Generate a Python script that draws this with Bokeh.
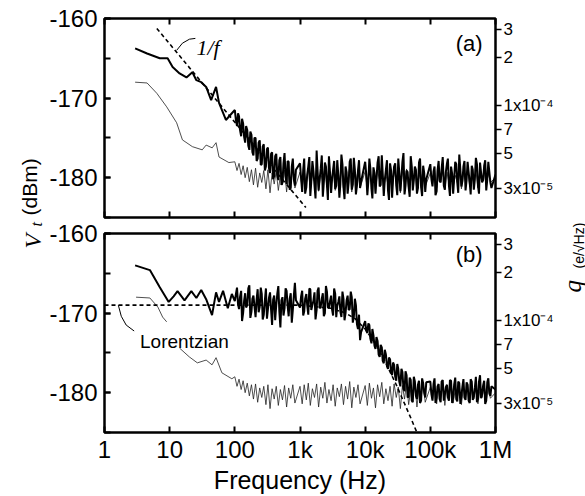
import math
from bokeh.plotting import figure
from bokeh.models import (Range1d, LogScale, LogAxis, FixedTicker, SingleIntervalTicker,
                          CustomJSTickFormatter, Label)
from bokeh.layouts import row, column
from bokeh.embed import file_html
from bokeh.resources import INLINE

SANS = "Liberation Sans"
SERIF = "Liberation Serif"

# ---------------- data ----------------
x_ticks = [1.0, 10.0, 100.0, 1000.0, 1e4, 1e5, 1e6]
x_tick_labels = ["1", "10", "100", "1k", "10k", "100k", "1M"]

y_ticks = [-180, -170, -160]
y_tick_labels = ["-180", "-170", "-160"]

q_ticks = [3e-5, 5e-5, 7e-5, 1e-4, 2e-4, 3e-4]
q_tick_labels = ["3x10\u207b\u2075", "5", "7", "1x10\u207b\u2074", "2", "3"]
Q_REF = 1e-4      # q value that sits at DB_REF
DB_REF = -170.9   # dBm

# frequency sample grids (mantissas per decade), 100 Hz .. 1 MHz
freq_mant = [1.00, 1.08, 1.16, 1.25, 1.34, 1.44, 1.55, 1.67, 1.80, 1.93,
             2.08, 2.24, 2.41, 2.59, 2.78, 3.00, 3.22, 3.47, 3.73, 4.02,
             4.32, 4.65, 5.00, 5.38, 5.79, 6.23, 6.70, 7.21, 7.76, 8.35]
freq_mant_mid = [1.04, 1.12, 1.20, 1.29, 1.39, 1.49, 1.61, 1.73, 1.86, 2.00,
                 2.16, 2.32, 2.50, 2.68, 2.89, 3.11, 3.34, 3.60, 3.87, 4.16,
                 4.48, 4.82, 5.19, 5.58, 6.01, 6.46, 6.95, 7.48, 8.05, 8.66]
grid_f = [m * 10 ** d for d in (2, 3, 4, 5) for m in freq_mant] + [1e6]
mid_f = [m * 10 ** d for d in (2, 3, 4, 5) for m in freq_mant_mid]

# Panel (a), thick trace
a_thick_lo_f = [2.95, 4.5, 7.05, 9.3, 11.1, 14.2, 18.1, 22.3, 25.7, 30.5, 36.3, 43.3, 51.5, 57.2, 73, 90]
a_thick_lo_db = [-163.75, -164.4, -165.0, -165.0, -166.1, -166.9, -167.4, -166.75, -167.75, -168.0,
                 -168.6, -170.25, -168.6, -170.6, -172.75, -171.9]
a_thick_d2 = [-171.5, -173.5, -172.3, -174.8, -173.2, -175.6, -174.0, -176.5, -174.6, -177.2,
              -175.0, -177.6, -175.3, -178.3, -175.8, -178.6, -176.2, -179.4, -176.8, -179.8,
              -177.0, -180.3, -177.4, -180.6, -176.9, -180.8, -178.0, -181.3, -177.6, -181.0]
a_thick_d3 = [-178.2, -181.8, -177.6, -181.2, -178.6, -182.3, -177.9, -181.0, -176.6, -181.6,
              -178.9, -182.4, -178.1, -180.9, -177.3, -181.9, -179.0, -181.4, -177.8, -182.5,
              -177.1, -181.2, -178.6, -182.0, -178.0, -181.5, -177.5, -182.1, -179.1, -181.3]
a_thick_d4 = [-178.0, -182.2, -177.6, -181.4, -178.7, -182.0, -178.1, -181.1, -177.2, -182.3,
              -179.0, -181.6, -178.2, -182.5, -178.6, -181.0, -177.6, -181.7, -178.0, -182.1,
              -179.1, -181.2, -177.3, -181.6, -178.6, -182.0, -178.1, -181.2, -178.5, -181.8]
a_thick_d5 = [-178.3, -181.1, -178.6, -181.7, -177.9, -180.6, -177.4, -181.5, -178.2, -181.0,
              -178.6, -182.0, -178.0, -180.6, -177.1, -181.1, -178.6, -181.6, -178.0, -180.6,
              -178.5, -181.5, -177.5, -181.0, -178.1, -180.6, -178.5, -181.6, -178.0, -180.6]
a_thick_end = [-179.6]
a_thick_m2 = [-172.8, -171.9, -174.0, -172.6, -174.9, -173.5, -176.0, -174.2, -176.8, -175.0,
              -177.9, -175.6, -178.4, -176.1, -179.1, -176.4, -178.8, -177.0, -180.2, -177.3,
              -179.6, -177.8, -180.9, -178.2, -179.8, -177.9, -181.5, -178.6, -180.2, -179.0]
a_thick_m3 = [-180.1, -179.0, -182.0, -179.6, -177.4, -180.5, -179.2, -182.6, -179.1, -180.2,
              -177.2, -180.6, -178.6, -182.8, -179.4, -180.1, -177.9, -181.0, -179.6, -180.8,
              -178.3, -182.7, -179.3, -180.6, -177.6, -180.9, -179.0, -181.0, -177.8, -180.5]
a_thick_m4 = [-179.6, -180.4, -178.8, -182.6, -179.4, -180.1, -177.3, -180.9, -179.5, -180.3,
              -177.8, -182.8, -179.1, -180.2, -178.2, -182.2, -179.4, -180.0, -176.9, -181.0,
              -179.3, -182.4, -178.6, -180.3, -179.0, -181.3, -177.6, -182.3, -179.4, -180.2]
a_thick_m5 = [-180.2, -179.2, -182.2, -179.1, -180.4, -178.9, -181.0, -179.3, -177.6, -182.3,
              -179.5, -180.1, -178.3, -181.9, -179.0, -180.4, -177.9, -180.3, -179.3, -182.1,
              -179.0, -180.2, -178.3, -182.0, -179.4, -180.3, -177.8, -180.2, -179.3, -181.3]

# Panel (a), thin trace
a_thin_lo_f = [2.95, 4.5, 6.35, 9.0, 12.8, 15.7, 22.3, 31.6, 36.3, 44.9, 51.5, 57.2, 81]
a_thin_lo_db = [-168.0, -168.1, -169.4, -171.1, -173.1, -175.25, -176.1, -176.5, -175.9, -176.25,
                -175.6, -177.4, -178.1]
a_thin_d2 = [-178.0, -179.1, -178.2, -179.6, -178.5, -180.0, -178.7, -180.5, -179.0, -180.9,
             -178.8, -181.2, -179.4, -180.6, -179.1, -181.4, -179.0, -181.9, -179.4, -180.8,
             -179.2, -181.6, -179.7, -180.9, -179.0, -181.8, -179.4, -180.7, -178.9, -181.3]
a_thin_d3 = [-179.3, -181.3, -179.1, -180.8, -178.9, -181.5, -179.6, -180.5, -179.0, -181.7,
             -179.4, -180.6, -178.8, -181.2, -179.7, -180.9, -179.1, -181.6, -179.5, -180.4,
             -179.0, -181.4, -179.3, -180.7, -178.7, -181.8, -179.4, -180.5, -179.1, -181.3]
a_thin_d4 = [-179.2, -181.5, -178.9, -180.6, -179.5, -181.8, -179.1, -180.4, -178.8, -181.3,
             -179.6, -180.9, -179.3, -181.6, -179.0, -180.5, -179.4, -181.9, -179.2, -180.7,
             -178.9, -181.4, -179.7, -180.6, -179.1, -181.7, -179.5, -180.5, -179.0, -181.1]
a_thin_d5 = [-179.4, -180.8, -179.0, -181.3, -179.6, -180.5, -179.1, -181.5, -179.3, -180.7,
             -178.9, -181.2, -179.7, -180.6, -179.2, -181.4, -179.4, -180.5, -179.0, -181.1,
             -179.5, -180.7, -179.1, -181.3, -179.6, -180.5, -179.2, -180.9, -179.4, -180.6]
a_thin_end = [-180.0]

# 1/f guide line (a)
onef_f = [6.35, 1230.0]
onef_db = [-161.25, -183.75]
onef_leader_f = [12.8, 15.7, 20.1, 24.8]
onef_leader_db = [-164.0, -163.1, -162.6, -162.5]

# Panel (b), thick trace
b_thick_lo_f = [2.95, 4.97, 7.05, 9.66, 11.5, 13.2, 16.9, 21.5, 25.7, 30.5, 36.3, 44.7, 51.5, 57.2, 66, 78, 90]
b_thick_lo_db = [-164.0, -164.6, -166.75, -168.6, -167.9, -167.25, -168.4, -167.25, -168.1, -167.1,
                 -168.25, -170.25, -167.4, -168.6, -167.2, -169.4, -167.6]
b_thick_d2 = [-168.5, -166.8, -169.5, -167.2, -170.0, -167.5, -169.0, -166.5, -169.8, -167.8,
              -170.5, -167.0, -169.2, -167.6, -170.2, -166.9, -169.5, -167.4, -171.5, -167.8,
              -169.0, -166.6, -171.8, -168.0, -169.4, -167.2, -170.4, -167.5, -169.6, -166.2]
b_thick_d3 = [-169.3, -167.2, -169.8, -167.6, -170.2, -167.0, -169.0, -167.4, -169.6, -166.8,
              -169.2, -167.5, -170.0, -167.3, -169.4, -167.8, -170.3, -167.6, -169.1, -167.9,
              -170.5, -168.2, -170.0, -167.8, -169.5, -168.0, -170.5, -169.0, -172.0, -173.4]
b_thick_d4 = [-171.0, -172.5, -171.5, -173.8, -172.8, -174.5, -173.5, -175.5, -174.3, -176.3,
              -175.2, -177.0, -175.8, -177.8, -176.5, -178.5, -177.0, -179.2, -177.4, -179.8,
              -177.8, -180.5, -178.4, -181.2, -178.6, -180.8, -178.5, -181.0, -178.8, -180.6]
b_thick_d5 = [-178.6, -181.0, -178.2, -180.5, -178.9, -181.2, -178.4, -180.3, -179.0, -181.0,
              -178.5, -180.6, -178.1, -181.1, -178.8, -180.4, -178.3, -180.9, -179.0, -181.3,
              -178.6, -180.5, -178.0, -180.8, -177.8, -180.2, -178.5, -181.0, -178.2, -180.4]
b_thick_end = [-179.6]
b_thick_m2 = [-167.6, -168.9, -168.0, -171.0, -168.4, -169.3, -166.9, -170.6, -168.2, -169.1,
              -168.3, -169.9, -166.8, -170.8, -168.4, -170.7, -168.1, -169.6, -168.3, -170.9,
              -167.6, -169.8, -168.4, -170.3, -166.9, -169.1, -168.2, -171.2, -167.8, -168.4]
b_thick_m3 = [-167.9, -170.3, -168.2, -169.0, -166.9, -169.6, -168.4, -170.8, -167.2, -169.4,
              -168.2, -170.4, -166.6, -169.3, -168.5, -169.6, -166.9, -170.5, -168.6, -169.8,
              -167.3, -170.9, -168.4, -169.6, -167.3, -171.2, -168.2, -171.4, -170.2, -172.4]
b_thick_m4 = [-172.2, -171.3, -173.2, -172.0, -174.1, -173.0, -175.2, -174.0, -176.0, -174.6,
              -176.7, -175.6, -177.4, -176.2, -178.0, -176.4, -178.6, -177.0, -179.5, -177.3,
              -180.6, -178.1, -181.0, -178.0, -180.4, -179.0, -181.3, -178.2, -180.0, -178.7]
b_thick_m5 = [-180.2, -178.9, -181.3, -179.2, -180.8, -178.6, -181.0, -179.3, -180.6, -178.4,
              -181.3, -179.0, -180.8, -178.6, -181.4, -179.2, -180.6, -178.7, -181.0, -178.3,
              -180.9, -179.4, -181.2, -178.6, -180.7, -179.1, -181.4, -178.7, -180.1, -179.2]

# Panel (b), thin trace (interrupted by the label)
b_thin_s1_f = [3.05, 4.97, 6.6, 7.8, 9.0]
b_thin_s1_db = [-168.0, -168.1, -169.25, -170.5, -171.1]
b_thin_s2_f = [14.2, 20.0, 26.6, 36.3, 44.7, 51.5, 63.3, 90]
b_thin_s2_db = [-174.4, -175.5, -176.25, -175.9, -176.5, -175.6, -177.5, -178.25]
b_thin_d2 = [-178.0, -179.2, -178.3, -179.6, -178.5, -180.0, -178.8, -180.4, -179.0, -180.8,
             -178.9, -181.2, -179.4, -180.6, -179.2, -181.5, -179.0, -182.0, -179.5, -180.8,
             -179.2, -181.6, -179.6, -180.9, -179.1, -181.8, -179.4, -180.7, -179.0, -181.3]
b_thin_d3 = [-179.2, -181.4, -179.0, -180.9, -178.8, -181.6, -179.5, -180.6, -178.9, -181.8,
             -179.3, -180.7, -178.7, -181.3, -179.6, -181.0, -179.0, -181.7, -179.4, -180.5,
             -178.9, -181.5, -179.2, -180.8, -178.6, -181.9, -179.3, -180.6, -179.0, -181.4]
b_thin_d4 = [-179.1, -181.6, -178.8, -180.7, -179.4, -181.9, -179.0, -180.5, -178.7, -181.4,
             -179.5, -181.0, -179.2, -181.7, -178.9, -180.6, -179.3, -182.0, -179.1, -180.8,
             -178.8, -181.5, -179.6, -180.7, -179.0, -181.8, -179.4, -180.6, -178.9, -181.2]
b_thin_d5 = [-179.3, -180.9, -178.9, -181.4, -179.5, -180.6, -179.0, -181.6, -179.2, -180.8,
             -178.8, -181.3, -179.6, -180.7, -179.1, -181.5, -179.3, -180.6, -178.9, -181.2,
             -179.4, -180.8, -179.0, -181.4, -179.5, -180.6, -179.1, -181.0, -179.3, -180.7]
b_thin_end = [-180.0]

# Lorentzian guide (b)
lor_f = [1.0, 1000.0, 3000.0, 5000.0, 7000.0, 1e4, 1.5e4, 2e4, 3e4, 5e4, 7e4]
lor_db = [-169.0, -169.0, -169.4, -170.0, -170.7, -172.0, -174.1, -176.0, -179.0, -183.15, -186.0]
lor_leader_f = [1.63, 1.81, 2.15, 2.85]
lor_leader_db = [-169.0, -170.4, -171.5, -172.25]

DB_LO, DB_HI = -185.0, -160.0

# ---------------- layout constants (pixels) ----------------
TOTAL_H = 496
LAB_L_W = 46
PANEL_W = 510
LAB_R_W = 29
FRAME_LEFT = 58
FRAME_RIGHT = 56


def q_of_db(db):
    return Q_REF * 10 ** ((db - DB_REF) / 20.0)


def merged(lo_f, lo_db, grid_db, mid_db):
    """low-frequency points followed by grid and mid-grid readings, ordered by frequency"""
    pairs = sorted(list(zip(grid_f, grid_db)) + list(zip(mid_f, mid_db)))
    return lo_f + [f for f, _ in pairs], lo_db + [d for _, d in pairs]


def hide_labels(ax):
    ax.formatter = CustomJSTickFormatter(code="return ''")
    ax.major_label_text_font_size = "0px"
    ax.major_label_standoff = 0


def make_panel(height, top, bottom, show_x_labels):
    p = figure(width=PANEL_W, height=height, x_axis_type="log",
               x_range=Range1d(1, 1e6), y_range=Range1d(DB_LO, DB_HI),
               output_backend="svg", toolbar_location=None,
               min_border_left=FRAME_LEFT, min_border_right=FRAME_RIGHT,
               min_border_top=top, min_border_bottom=bottom)
    p.grid.grid_line_color = None
    p.outline_line_color = "black"
    p.outline_line_width = 2.5
    p.background_fill_color = "white"
    p.border_fill_color = "white"

    xb = p.xaxis[0]
    xb.ticker = FixedTicker(ticks=x_ticks, minor_ticks=[])
    xb.axis_line_color = None
    xb.major_tick_in = 6
    xb.major_tick_out = 0
    xb.major_tick_line_width = 2
    if show_x_labels:
        xb.major_label_overrides = dict(zip(x_ticks, x_tick_labels))
        xb.major_label_text_font = SANS
        xb.major_label_text_font_size = "24px"
        xb.major_label_text_color = "black"
        xb.major_label_standoff = 3
        xb.axis_label = "Frequency (Hz)"
        xb.axis_label_text_font = SANS
        xb.axis_label_text_font_size = "25px"
        xb.axis_label_text_font_style = "normal"
        xb.axis_label_text_color = "black"
        xb.axis_label_standoff = 0
    else:
        hide_labels(xb)

    xa = LogAxis(ticker=FixedTicker(ticks=x_ticks, minor_ticks=[]))
    xa.axis_line_color = None
    xa.major_tick_in = 6
    xa.major_tick_out = 0
    xa.major_tick_line_width = 2
    hide_labels(xa)
    p.add_layout(xa, "above")

    yl = p.yaxis[0]
    yl.ticker = SingleIntervalTicker(interval=10, num_minor_ticks=2)
    yl.major_label_overrides = dict(zip(y_ticks, y_tick_labels))
    yl.axis_line_color = None
    yl.major_tick_in = 6
    yl.major_tick_out = 0
    yl.minor_tick_in = 6
    yl.minor_tick_out = 0
    yl.major_tick_line_width = 2
    yl.minor_tick_line_width = 2
    yl.major_label_text_font = SANS
    yl.major_label_text_font_size = "24px"
    yl.major_label_text_color = "black"
    yl.major_label_standoff = 7

    p.extra_y_ranges = {"q": Range1d(q_of_db(DB_LO), q_of_db(DB_HI))}
    p.extra_y_scales = {"q": LogScale()}
    yr = LogAxis(y_range_name="q", ticker=FixedTicker(ticks=q_ticks, minor_ticks=[]))
    yr.major_label_overrides = dict(zip(q_ticks, q_tick_labels))
    yr.axis_line_color = None
    yr.major_tick_in = 0
    yr.major_tick_out = 6
    yr.major_tick_line_width = 1.5
    yr.major_label_text_font = SANS
    yr.major_label_text_font_size = "17px"
    yr.major_label_text_color = "black"
    yr.major_label_standoff = 2
    p.add_layout(yr, "right")
    return p


THIN = dict(color="#222222", line_width=0.8)
THICK = dict(color="black", line_width=2.0)
DASH = dict(color="black", line_width=1.6, line_dash="4 3")

# ---------------- panel (a) ----------------
p1 = make_panel(221, 18, 4, False)
p1.line(a_thin_lo_f + grid_f, a_thin_lo_db + a_thin_d2 + a_thin_d3 + a_thin_d4 + a_thin_d5 + a_thin_end, **THIN)
fa, da = merged(a_thick_lo_f, a_thick_lo_db,
                a_thick_d2 + a_thick_d3 + a_thick_d4 + a_thick_d5 + a_thick_end,
                a_thick_m2 + a_thick_m3 + a_thick_m4 + a_thick_m5)
p1.line(fa, da, **THICK)
p1.line(onef_f, onef_db, **DASH)
p1.line(onef_leader_f, onef_leader_db, color="black", line_width=1)
p1.add_layout(Label(x=25.7, y=-163.7, text="1/f", text_font=SERIF, text_font_style="italic",
                    text_font_size="22px", text_baseline="alphabetic", text_align="left",
                    text_color="black"))
p1.add_layout(Label(x=6.35e5, y=-163.1, text="(a)", text_font=SANS, text_font_size="22px",
                    text_baseline="middle", text_align="right", text_color="black"))

# ---------------- panel (b) ----------------
p2 = make_panel(275, 12, 64, True)
p2.line(b_thin_s1_f, b_thin_s1_db, **THIN)
p2.line(b_thin_s2_f + grid_f, b_thin_s2_db + b_thin_d2 + b_thin_d3 + b_thin_d4 + b_thin_d5 + b_thin_end, **THIN)
fb, db_ = merged(b_thick_lo_f, b_thick_lo_db,
                 b_thick_d2 + b_thick_d3 + b_thick_d4 + b_thick_d5 + b_thick_end,
                 b_thick_m2 + b_thick_m3 + b_thick_m4 + b_thick_m5)
p2.line(fb, db_, **THICK)
p2.line(lor_f, lor_db, **DASH)
p2.line(lor_leader_f, lor_leader_db, color="black", line_width=1)
p2.add_layout(Label(x=3.51, y=-173.6, text="Lorentzian", text_font=SANS, text_font_size="19px",
                    text_baseline="alphabetic", text_align="left", text_color="black"))
p2.add_layout(Label(x=6.35e5, y=-162.6, text="(b)", text_font=SANS, text_font_size="22px",
                    text_baseline="middle", text_align="right", text_color="black"))


def label_fig(width):
    f = figure(width=width, height=TOTAL_H, x_range=Range1d(0, width), y_range=Range1d(0, TOTAL_H),
               output_backend="svg", toolbar_location=None, min_border=0,
               x_axis_location=None, y_axis_location=None)
    f.grid.grid_line_color = None
    f.outline_line_color = None
    f.background_fill_color = "white"
    f.border_fill_color = "white"
    return f


# ---------------- left axis title: V_t (dBm) ----------------
lab = label_fig(LAB_L_W)
lab.add_layout(Label(x=32, y=248, text="V", text_font=SERIF, text_font_style="italic",
                     text_font_size="24px", angle=math.pi / 2, text_baseline="alphabetic",
                     text_align="left", text_color="black"))
lab.add_layout(Label(x=36, y=270, text="t", text_font=SERIF, text_font_style="italic",
                     text_font_size="16px", angle=math.pi / 2, text_baseline="alphabetic",
                     text_align="left", text_color="black"))
lab.add_layout(Label(x=29, y=281, text="(dBm)", text_font=SANS,
                     text_font_size="21px", angle=math.pi / 2, text_baseline="alphabetic",
                     text_align="left", text_color="black"))

# ---------------- right axis title: q (e/sqrt(Hz)) ----------------
rab = label_fig(LAB_R_W)
rab.add_layout(Label(x=16, y=204, text="q", text_font=SERIF, text_font_style="italic",
                     text_font_size="25px", angle=math.pi / 2, text_baseline="alphabetic",
                     text_align="left", text_color="black"))
rab.add_layout(Label(x=22, y=228, text="(e/\u221aHz)", text_font=SANS,
                     text_font_size="14px", angle=math.pi / 2, text_baseline="alphabetic",
                     text_align="left", text_color="black"))

layout = row(lab, column(p1, p2), rab)
open("out.html", "w").write(file_html(layout, INLINE))
